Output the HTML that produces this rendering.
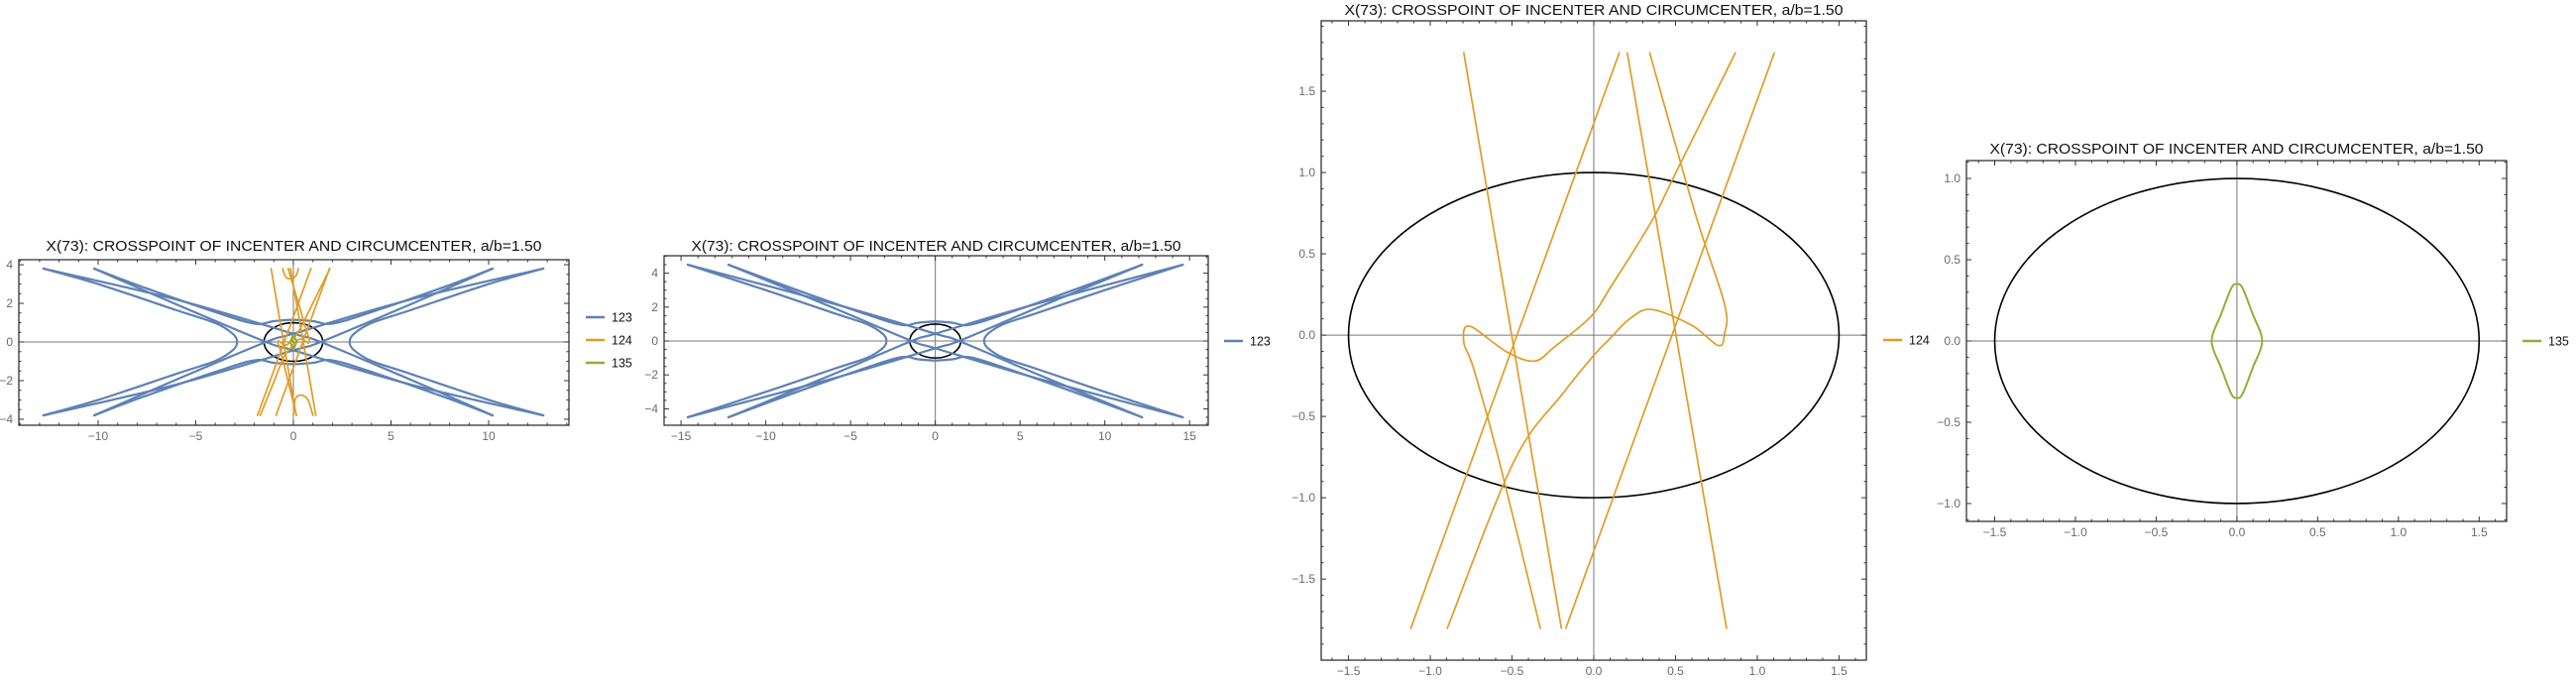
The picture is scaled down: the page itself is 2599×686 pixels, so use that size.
<!DOCTYPE html>
<html><head><meta charset="utf-8">
<style>
html,body{margin:0;padding:0;background:#fff;}
svg{display:block;font-family:"Liberation Sans",Arial,sans-serif;}
</style></head>
<body>
<svg id="root" width="2599" height="686" viewBox="0 0 2599 686" xmlns="http://www.w3.org/2000/svg"></svg>
<script>
// ---- data (curves, in data coordinates) ----
const ellipseA = 1.5;
const ellipseB = 1.0;

// Series 123 (blue) – panel 2 extent
const blueHypRight2 = [[14.6,4.5],[10,3.0],[6,1.65],[4,0.98],[3.1,0.42],[2.88,0],[3.1,-0.42],[4,-0.98],[6,-1.65],[10,-3.0],[14.6,-4.5]];
const blueHypLeft2  = [[-14.6,4.5],[-10,3.0],[-6,1.65],[-4,0.98],[-3.1,0.42],[-2.88,0],[-3.1,-0.42],[-4,-0.98],[-6,-1.65],[-10,-3.0],[-14.6,-4.5]];
const blueCapUp2    = [[-12.2,4.5],[-8,2.95],[-4,1.55],[-2,0.95],[-1,1.08],[0,1.15],[1,1.08],[2,0.95],[4,1.55],[8,2.95],[12.2,4.5]];
const blueCapDown2  = [[-12.2,-4.5],[-8,-2.95],[-4,-1.55],[-2,-0.95],[-1,-1.08],[0,-1.15],[1,-1.08],[2,-0.95],[4,-1.55],[8,-2.95],[12.2,-4.5]];
const blueLineA2    = [[-14.6,4.5],[-6,2.2],[0,0.43],[1.4,0],[6,-1.95],[12.2,-4.5]];
const blueLineB2    = [[-12.2,4.5],[-6,1.95],[-1.4,0],[0,-0.43],[6,-2.2],[14.6,-4.5]];
const blueLineC2    = [[14.6,4.5],[6,2.2],[0,0.43],[-1.4,0],[-6,-1.95],[-12.2,-4.5]];
const blueLineD2    = [[12.2,4.5],[6,1.95],[1.4,0],[0,-0.43],[-6,-2.2],[-14.6,-4.5]];

// Series 123 (blue) – panel 1 extent
const blueHypRight1 = [[12.8,3.8],[10,3.0],[6,1.65],[4,0.98],[3.1,0.42],[2.88,0],[3.1,-0.42],[4,-0.98],[6,-1.65],[10,-3.0],[12.8,-3.8]];
const blueHypLeft1  = [[-12.8,3.8],[-10,3.0],[-6,1.65],[-4,0.98],[-3.1,0.42],[-2.88,0],[-3.1,-0.42],[-4,-0.98],[-6,-1.65],[-10,-3.0],[-12.8,-3.8]];
const blueCapUp1    = [[-10.2,3.8],[-8,2.95],[-4,1.55],[-2,0.95],[-1,1.08],[0,1.15],[1,1.08],[2,0.95],[4,1.55],[8,2.95],[10.2,3.8]];
const blueCapDown1  = [[-10.2,-3.8],[-8,-2.95],[-4,-1.55],[-2,-0.95],[-1,-1.08],[0,-1.15],[1,-1.08],[2,-0.95],[4,-1.55],[8,-2.95],[10.2,-3.8]];
const blueLineA1    = [[-12.8,3.8],[-6,2.2],[0,0.43],[1.4,0],[6,-1.95],[10.2,-3.8]];
const blueLineB1    = [[-10.2,3.8],[-6,1.95],[-1.4,0],[0,-0.43],[6,-2.2],[12.8,-3.8]];
const blueLineC1    = [[12.8,3.8],[6,2.2],[0,0.43],[-1.4,0],[-6,-1.95],[-10.2,-3.8]];
const blueLineD1    = [[10.2,3.8],[6,1.95],[1.4,0],[0,-0.43],[-6,-2.2],[-12.8,-3.8]];

// Series 124 (orange) – panel 3 extent
const orange1 = [[-0.795,1.736],[-0.198,-1.803]];
const orange2 = [[0.156,1.736],[-1.119,-1.803]];
const orange3 = [[0.205,1.736],[0.812,-1.803]];
const orange4 = [[0.342,1.736],[0.62,0.75],[0.80,0.19],[0.80,0.01],[0.762,-0.064],[0.60,0.06],[0.354,0.158],[0.22,0.10],[0.10,-0.02],[0,-0.125],[-0.19,-0.36],[-0.49,-0.78],[-0.896,-1.803]];
const orange5 = [[0.866,1.736],[0.50,0.995],[0.354,0.70],[0.106,0.30],[-0.017,0.115],[-0.24,-0.072],[-0.364,-0.16],[-0.537,-0.10],[-0.76,0.056],[-0.795,-0.045],[-0.735,-0.205],[-0.587,-0.739],[-0.327,-1.803]];
const orange6 = [[1.104,1.736],[-0.171,-1.803]];
// extra orange points visible only in panel 1 (wider y range)
const orange1ext = [[-1.14,3.8],[-0.795,1.736],[-0.198,-1.803],[0.14,-3.8]];
const orange2ext = [[0.90,3.8],[0.156,1.736],[-1.119,-1.803],[-1.84,-3.8]];
const orange3ext = [[-0.15,3.8],[0.205,1.736],[0.812,-1.803],[1.15,-3.8]];
const orange6ext = [[1.85,3.8],[1.104,1.736],[-0.171,-1.803],[-0.89,-3.8]];
const orange4top = [[-0.27,3.8],[0.342,1.736]];
const orange4bot = [[-0.896,-1.803],[-1.7,-3.8]];
const orange5top = [[1.87,3.8],[0.866,1.736]];
const orange5bot = [[-0.327,-1.803],[0.16,-3.8]];
const orangeHumpTop = [[-0.55,3.8],[-0.38,3.35],[-0.1,3.28],[0.15,3.45],[0.25,3.8]];
const orangeHumpBot = [[0.0,-3.8],[0.1,-2.95],[0.4,-2.75],[0.75,-3.0],[1.0,-3.8]];

// Series 135 (green)
const greenLoop = [[0,0.35],[0.035,0.325],[0.1,0.16],[0.15,0.04],[0.15,-0.04],[0.1,-0.16],[0.035,-0.325],[0,-0.35],[-0.035,-0.325],[-0.1,-0.16],[-0.15,-0.04],[-0.15,0.04],[-0.1,0.16],[-0.035,0.325]];

// tick label arrays
const xTicks1 = [-10,-5,0,5,10];
const yTicks1 = [-4,-2,0,2,4];
const xTicks2 = [-15,-10,-5,0,5,10,15];
const yTicks2 = [-4,-2,0,2,4];
const xTicks34 = [-1.5,-1.0,-0.5,0.0,0.5,1.0,1.5];
const yTicks3 = [-1.5,-1.0,-0.5,0.0,0.5,1.0,1.5];
const yTicks4 = [-1.0,-0.5,0.0,0.5,1.0];

const TITLE = "X(73): CROSSPOINT OF INCENTER AND CIRCUMCENTER, a/b=1.50";
const BLUE="#5E81B5", ORANGE="#E19C24", GREEN="#8FB032";

const NS="http://www.w3.org/2000/svg";
const root=document.getElementById('root');
function mk(tag,attrs,parent){const e=document.createElementNS(NS,tag);for(const k in attrs)e.setAttribute(k,attrs[k]);(parent||root).appendChild(e);return e;}

function smoothPath(pts,sx,sy,closed){
  const P=pts.map(p=>[sx(p[0]),sy(p[1])]);
  if(P.length===2) return `M${P[0][0]},${P[0][1]}L${P[1][0]},${P[1][1]}`;
  const n=P.length;let d=`M${P[0][0]},${P[0][1]}`;
  const get=i=>closed?P[(i+n)%n]:P[Math.max(0,Math.min(n-1,i))];
  const segs=closed?n:n-1;
  for(let i=0;i<segs;i++){
    const p0=get(i-1),p1=get(i),p2=get(i+1),p3=get(i+2);
    const c1=[p1[0]+(p2[0]-p0[0])/6,p1[1]+(p2[1]-p0[1])/6];
    const c2=[p2[0]-(p3[0]-p1[0])/6,p2[1]-(p3[1]-p1[1])/6];
    d+=`C${c1[0].toFixed(2)},${c1[1].toFixed(2)} ${c2[0].toFixed(2)},${c2[1].toFixed(2)} ${p2[0].toFixed(2)},${p2[1].toFixed(2)}`;
  }
  return d+(closed?'Z':'');
}
function fmt(v,dec){const s=Math.abs(v).toFixed(dec);return (v<0?'\u2212':'')+s;}

function panel(cfg){
  const g=mk('g',{});
  
  
  const {L,R,T,B,xmin,xmax,ymin,ymax}=cfg;
  const sx=x=>L+(x-xmin)/(xmax-xmin)*(R-L);
  const sy=y=>B-(y-ymin)/(ymax-ymin)*(B-T);
  const cid='clip-'+cfg.name;
  const cp=mk('clipPath',{id:cid},g);mk('rect',{x:L,y:T,width:R-L,height:B-T},cp);
  const t=mk('text',{x:(L+R)/2+cfg.titleDx,y:cfg.titleY,'text-anchor':'middle','font-size':15,fill:'#111',textLength:cfg.titleW,lengthAdjust:'spacingAndGlyphs'},g);
  t.textContent=TITLE;
  
  
  const ax=mk('g',{},g);
  
  
  mk('line',{x1:L,x2:R,y1:sy(0),y2:sy(0),stroke:'#777','stroke-width':1},ax);
  mk('line',{x1:sx(0),x2:sx(0),y1:T,y2:B,stroke:'#777','stroke-width':1},ax);
  const pg=mk('g',{'clip-path':`url(#${cid})`},g);
  const el=mk('ellipse',{cx:sx(0),cy:sy(0),rx:sx(ellipseA)-sx(0),ry:sy(0)-sy(ellipseB),fill:'none',stroke:'#000','stroke-width':1.6},pg);
  
  
  cfg.series.forEach(s=>{
    s.curves.forEach((c,i)=>{
      const p=mk('path',{d:smoothPath(c,sx,sy,!!s.closed),fill:'none',stroke:s.color,'stroke-width':s.w,'stroke-linejoin':'round','stroke-linecap':'round'},pg);
      
      
    });
  });
  const fr=mk('rect',{x:L,y:T,width:R-L,height:B-T,fill:'none',stroke:'#222','stroke-width':1.2},g);
  
  
  const tk=mk('g',{stroke:'#333','stroke-width':1},g);
  
  
  for(let k=Math.ceil(xmin/cfg.xMinor);k*cfg.xMinor<=xmax;k++){
    const v=k*cfg.xMinor;const X=sx(v);
    const major=cfg.xTicks.some(m=>Math.abs(m-v)<1e-6);const len=major?5:2.5;
    mk('line',{x1:X,x2:X,y1:B,y2:B-len},tk);mk('line',{x1:X,x2:X,y1:T,y2:T+len},tk);
  }
  for(let k=Math.ceil(ymin/cfg.yMinor);k*cfg.yMinor<=ymax;k++){
    const v=k*cfg.yMinor;const Y=sy(v);
    const major=cfg.yTicks.some(m=>Math.abs(m-v)<1e-6);const len=major?5:2.5;
    mk('line',{x1:L,x2:L+len,y1:Y,y2:Y},tk);mk('line',{x1:R,x2:R-len,y1:Y,y2:Y},tk);
  }
  cfg.xTicks.forEach(v=>{
    const tx=mk('text',{x:sx(v),y:B+15,'text-anchor':'middle','font-size':12,fill:'#6a6a6a'},g);
    tx.textContent=fmt(v,cfg.dec);
    
    
  });
  cfg.yTicks.forEach(v=>{
    const ty=mk('text',{x:L-6,y:sy(v)+4,'text-anchor':'end','font-size':12,fill:'#6a6a6a'},g);
    ty.textContent=fmt(v,cfg.dec);
    
    
  });
  cfg.legend.forEach(e=>{
    const lg=mk('g',{},g);
    
    
    mk('line',{x1:e.x,x2:e.x+19,y1:e.y,y2:e.y,stroke:e.color,'stroke-width':2.5},lg);
    const lt=mk('text',{x:e.x+26,y:e.y+4.5,'font-size':12.5,fill:'#111'},lg);
    lt.textContent=e.label;
  });
}

const orangeP3=[orange1,orange2,orange3,orange4,orange5,orange6];
const orangeP1=[orange1ext,orange2ext,orange3ext,orange6ext,orange4,orange5,orange4top,orange4bot,orange5top,orange5bot,orangeHumpTop,orangeHumpBot];

panel({name:'panel-all-series',L:19,R:574,T:262,B:429,xmin:-14.06,xmax:14.11,ymin:-4.31,ymax:4.26,
  xTicks:xTicks1,yTicks:yTicks1,xMinor:1,yMinor:0.5,dec:0,titleY:253,titleDx:0,titleW:500,
  series:[{label:'123',color:BLUE,w:2.2,curves:[blueHypRight1,blueHypLeft1,blueCapUp1,blueCapDown1,blueLineA1,blueLineB1,blueLineC1,blueLineD1]},
          {label:'124',color:ORANGE,w:1.7,curves:orangeP1},
          {label:'135',color:GREEN,w:2,closed:true,curves:[greenLoop]}],
  legend:[{label:'123',color:BLUE,x:591,y:320},{label:'124',color:ORANGE,x:591,y:343},{label:'135',color:GREEN,x:591,y:366}]});

panel({name:'panel-series-123',L:670,R:1219,T:258,B:429,xmin:-16.0,xmax:16.1,ymin:-4.97,ymax:5.03,
  xTicks:xTicks2,yTicks:yTicks2,xMinor:1,yMinor:0.5,dec:0,titleY:253,titleDx:0,titleW:494,
  series:[{label:'123',color:BLUE,w:2.2,curves:[blueHypRight2,blueHypLeft2,blueCapUp2,blueCapDown2,blueLineA2,blueLineB2,blueLineC2,blueLineD2]}],
  legend:[{label:'123',color:BLUE,x:1235,y:344}]});

panel({name:'panel-series-124',L:1333,R:1883,T:21,B:666,xmin:-1.667,xmax:1.667,ymin:-1.999,ymax:1.933,
  xTicks:xTicks34,yTicks:yTicks3,xMinor:0.1,yMinor:0.1,dec:1,titleY:15,titleDx:0,titleW:503,
  series:[{label:'124',color:ORANGE,w:1.7,curves:orangeP3}],
  legend:[{label:'124',color:ORANGE,x:1900,y:343}]});

panel({name:'panel-series-135',L:1984,R:2529,T:162,B:526,xmin:-1.675,xmax:1.67,ymin:-1.11,ymax:1.11,
  xTicks:xTicks34,yTicks:yTicks4,xMinor:0.1,yMinor:0.1,dec:1,titleY:155,titleDx:0,titleW:498,
  series:[{label:'135',color:GREEN,w:2,closed:true,curves:[greenLoop]}],
  legend:[{label:'135',color:GREEN,x:2545,y:344}]});
</script>
</body></html>
